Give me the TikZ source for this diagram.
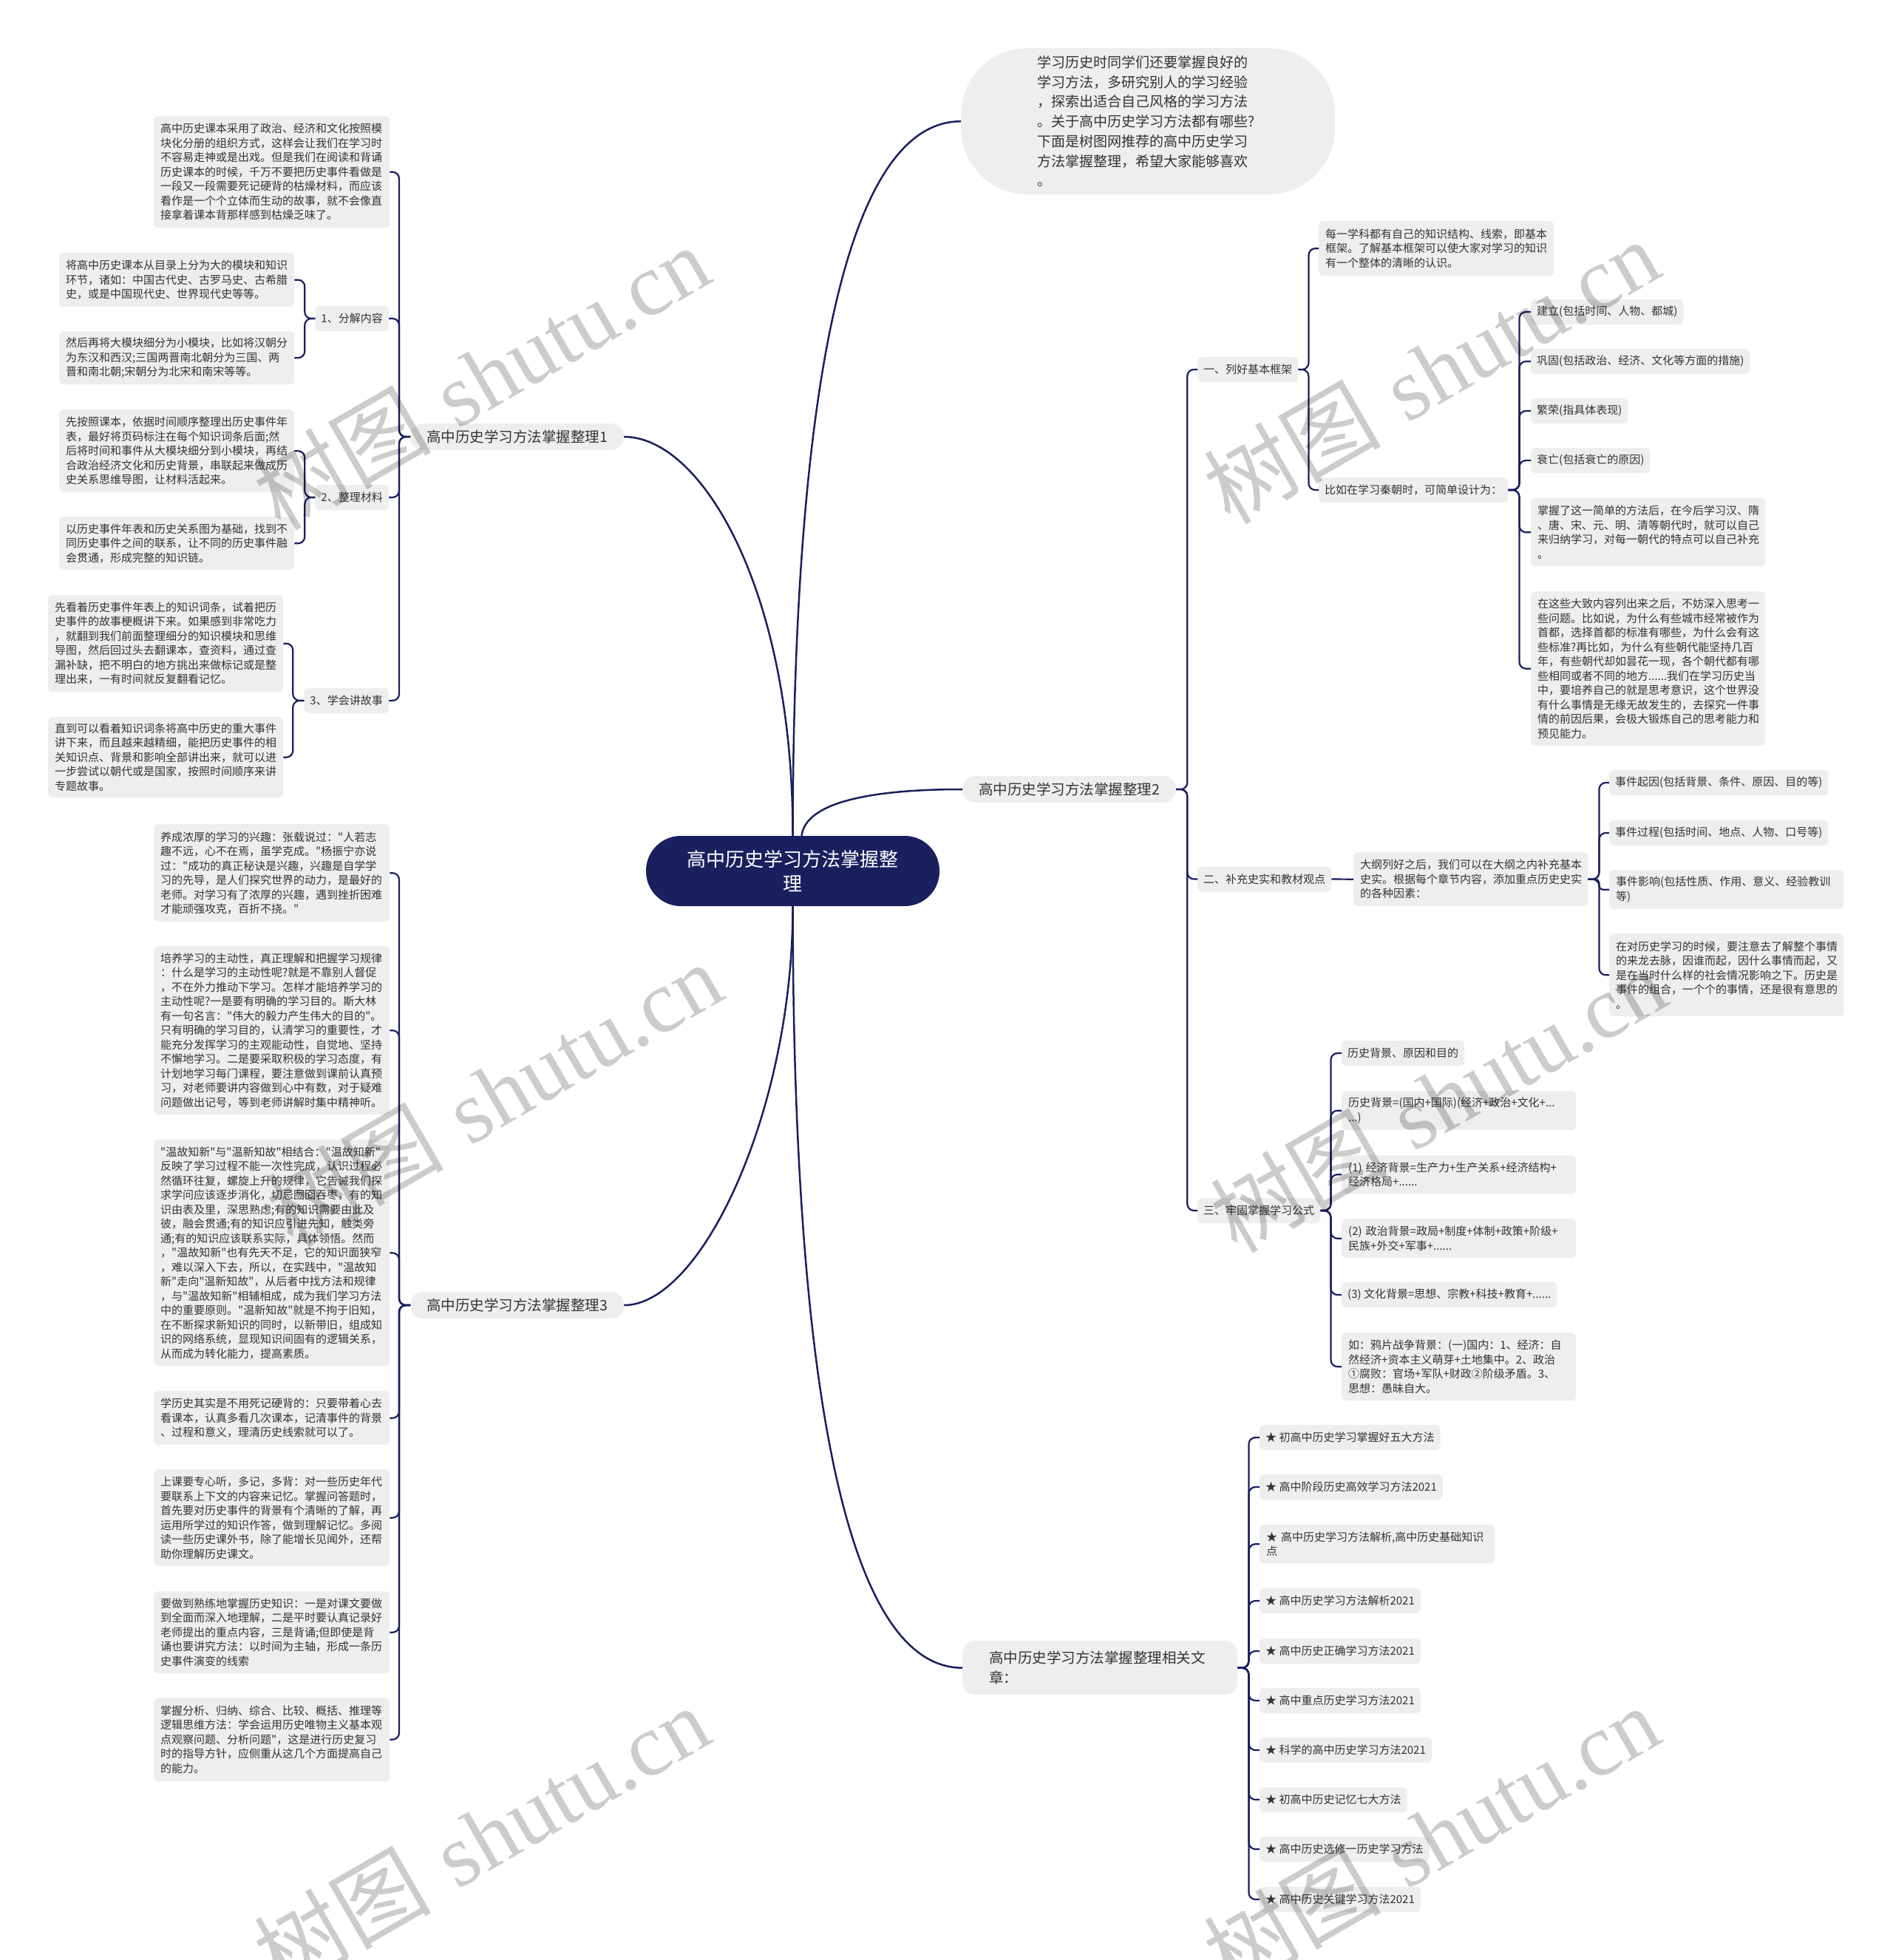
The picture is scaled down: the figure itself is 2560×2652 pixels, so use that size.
\documentclass[tikz,border=0pt]{standalone}
\usepackage{fontspec}
\newfontfamily\cjk{Noto Sans CJK SC}
\newfontfamily\wmserif{Liberation Serif}
\definecolor{navy}{HTML}{1A1F5E}
\definecolor{boxgray}{HTML}{EEEEEE}
\definecolor{txt}{HTML}{333333}
\tikzset{
  box/.style={fill=boxgray, text=txt, rounded corners=6pt, inner xsep=9pt, inner ysep=0pt, minimum height=34pt, align=left, font=\cjk\fontsize{15}{19.5}\selectfont},
  tl/.style={box, anchor=north west},
  lbl/.style={box, inner xsep=8pt},
  branch/.style={fill=boxgray, text=txt, rounded corners=17pt, inner xsep=22pt, inner ysep=0pt, minimum height=36pt, font=\cjk\fontsize{19.5}{27}\selectfont},
  conn/.style={draw=navy, line width=2.2pt, rounded corners=9pt},
  mainconn/.style={draw=navy, line width=2.5pt},
  wm/.style={rotate=30, text=black, text opacity=0.2, inner sep=0pt, font=\fontsize{120}{120}\selectfont}
}
\begin{document}
\begin{tikzpicture}[x=1pt,y=-1pt]
\useasboundingbox (0,0) rectangle (2560,2652);

% root
\node[fill=navy, text=white, rounded corners=47pt, minimum width=397pt, minimum height=95pt, align=center, inner sep=0pt, font=\cjk\fontsize{26}{33}\selectfont] (root) at (1072.5,1178.5) {高中历史学习方法掌握整\\理};

% intro
\node[fill=boxgray, text=txt, rounded corners=90pt, anchor=north west, minimum height=198pt, text width=300pt, inner xsep=103pt, inner ysep=0pt, align=left, font=\cjk\fontsize{19}{26.7}\selectfont] (intro) at (1300,65) {学习历史时同学们还要掌握良好的\\学习方法，多研究别人的学习经验\\，探索出适合自己风格的学习方法\\。关于高中历史学习方法都有哪些?\\下面是树图网推荐的高中历史学习\\方法掌握整理，希望大家能够喜欢\\。};

% branches
\node[branch, anchor=west] (b1) at (555,591) {高中历史学习方法掌握整理1};
\node[branch, anchor=west] (b2) at (1302,1068) {高中历史学习方法掌握整理2};
\node[branch, anchor=west] (b3) at (555,1766) {高中历史学习方法掌握整理3};
\node[branch, anchor=north west, text width=300pt, inner xsep=36pt, align=left, minimum height=73pt] (b4) at (1302,2220) {高中历史学习方法掌握整理相关文\\章：};

% branch 1
\node[tl, text width=301pt, minimum height=151pt] (l1a) at (208,157) {高中历史课本采用了政治、经济和文化按照模\\块化分册的组织方式，这样会让我们在学习时\\不容易走神或是出戏。但是我们在阅读和背诵\\历史课本的时候，千万不要把历史事件看做是\\一段又一段需要死记硬背的枯燥材料，而应该\\看作是一个个立体而生动的故事，就不会像直\\接拿着课本背那样感到枯燥乏味了。};
\node[lbl, anchor=east] (k1) at (526,431) {1、分解内容};
\node[lbl, anchor=east] (k2) at (526,673) {2、整理材料};
\node[lbl, anchor=east] (k3) at (526,948) {3、学会讲故事};
\node[tl, text width=300pt, minimum height=73pt] (l1b) at (80,342) {将高中历史课本从目录上分为大的模块和知识\\环节，诸如：中国古代史、古罗马史、古希腊\\史，或是中国现代史、世界现代史等等。};
\node[tl, text width=300pt, minimum height=72pt] (l1c) at (80,448) {然后再将大模块细分为小模块，比如将汉朝分\\为东汉和西汉;三国两晋南北朝分为三国、两\\晋和南北朝;宋朝分为北宋和南宋等等。};
\node[tl, text width=300pt, minimum height=112pt] (l2a) at (80,554) {先按照课本，依据时间顺序整理出历史事件年\\表，最好将页码标注在每个知识词条后面;然\\后将时间和事件从大模块细分到小模块，再结\\合政治经济文化和历史背景，串联起来做成历\\史关系思维导图，让材料活起来。};
\node[tl, text width=300pt, minimum height=72pt] (l2b) at (80,699) {以历史事件年表和历史关系图为基础，找到不\\同历史事件之间的联系，让不同的历史事件融\\会贯通，形成完整的知识链。};
\node[tl, text width=300pt, minimum height=131pt] (l3a) at (65,805) {先看着历史事件年表上的知识词条，试着把历\\史事件的故事梗概讲下来。如果感到非常吃力\\，就翻到我们前面整理细分的知识模块和思维\\导图，然后回过头去翻课本，查资料，通过查\\漏补缺，把不明白的地方挑出来做标记或是整\\理出来，一有时间就反复翻看记忆。};
\node[tl, text width=300pt, minimum height=109pt] (l3b) at (65,970) {直到可以看着知识词条将高中历史的重大事件\\讲下来，而且越来越精细，能把历史事件的相\\关知识点、背景和影响全部讲出来，就可以进\\一步尝试以朝代或是国家，按照时间顺序来讲\\专题故事。};

% branch 3
\node[tl, text width=301pt, minimum height=132pt] (m1) at (208,1115) {养成浓厚的学习的兴趣：张载说过："人若志\\趣不远，心不在焉，虽学克成。"杨振宁亦说\\过："成功的真正秘诀是兴趣，兴趣是自学学\\习的先导，是人们探究世界的动力，是最好的\\老师。对学习有了浓厚的兴趣，遇到挫折困难\\才能顽强攻克，百折不挠。"};
\node[tl, text width=301pt, minimum height=228pt] (m2) at (208,1280) {培养学习的主动性，真正理解和把握学习规律\\：什么是学习的主动性呢?就是不靠别人督促\\，不在外力推动下学习。怎样才能培养学习的\\主动性呢?一是要有明确的学习目的。斯大林\\有一句名言："伟大的毅力产生伟大的目的"。\\只有明确的学习目的，认清学习的重要性，才\\能充分发挥学习的主观能动性，自觉地、坚持\\不懈地学习。二是要采取积极的学习态度，有\\计划地学习每门课程，要注意做到课前认真预\\习，对老师要讲内容做到心中有数，对于疑难\\问题做出记号，等到老师讲解时集中精神听。};
\node[tl, text width=301pt, minimum height=306pt] (m3) at (208,1542) {"温故知新"与"温新知故"相结合："温故知新"\\反映了学习过程不能一次性完成，认识过程必\\然循环往复，螺旋上升的规律，它告诫我们探\\求学问应该逐步消化，切忌囫囵吞枣，有的知\\识由表及里，深思熟虑;有的知识需要由此及\\彼，融会贯通;有的知识应引进先知，触类旁\\通;有的知识应该联系实际，具体领悟。然而\\，"温故知新"也有先天不足，它的知识面狭窄\\，难以深入下去，所以，在实践中，"温故知\\新"走向"温新知故"，从后者中找方法和规律\\，与"温故知新"相辅相成，成为我们学习方法\\中的重要原则。"温新知故"就是不拘于旧知，\\在不断探求新知识的同时，以新带旧，组成知\\识的网络系统，显现知识间固有的逻辑关系，\\从而成为转化能力，提高素质。};
\node[tl, text width=301pt, minimum height=73pt] (m4) at (208,1882) {学历史其实是不用死记硬背的：只要带着心去\\看课本，认真多看几次课本，记清事件的背景\\、过程和意义，理清历史线索就可以了。};
\node[tl, text width=301pt, minimum height=131pt] (m5) at (208,1988) {上课要专心听，多记，多背：对一些历史年代\\要联系上下文的内容来记忆。掌握问答题时，\\首先要对历史事件的背景有个清晰的了解，再\\运用所学过的知识作答，做到理解记忆。多阅\\读一些历史课外书，除了能增长见闻外，还帮\\助你理解历史课文。};
\node[tl, text width=301pt, minimum height=111pt] (m6) at (208,2153) {要做到熟练地掌握历史知识：一是对课文要做\\到全面而深入地理解，二是平时要认真记录好\\老师提出的重点内容，三是背诵;但即使是背\\诵也要讲究方法：以时间为主轴，形成一条历\\史事件演变的线索};
\node[tl, text width=301pt, minimum height=113pt] (m7) at (208,2297) {掌握分析、归纳、综合、比较、概括、推理等\\逻辑思维方法：学会运用历史唯物主义基本观\\点观察问题、分析问题"，这是进行历史复习\\时的指导方针，应侧重从这几个方面提高自己\\的能力。};

% branch 2
\node[lbl, anchor=west] (k4) at (1620,500) {一、列好基本框架};
\node[lbl, anchor=west] (k5) at (1620,1189.5) {二、补充史实和教材观点};
\node[lbl, anchor=west] (k6) at (1620,1638) {三、牢固掌握学习公式};
\node[tl, text width=300pt, minimum height=74pt] (r1a) at (1784,299) {每一学科都有自己的知识结构、线索，即基本\\框架。了解基本框架可以使大家对学习的知识\\有一个整体的清晰的认识。};
\node[lbl, anchor=west] (r1b) at (1784,663) {比如在学习秦朝时，可简单设计为：};
\node[lbl, anchor=west] (r1b1) at (2071,422) {建立(包括时间、人物、都城)};
\node[lbl, anchor=west] (r1b2) at (2071,489) {巩固(包括政治、经济、文化等方面的措施)};
\node[lbl, anchor=west] (r1b3) at (2071,556) {繁荣(指具体表现)};
\node[lbl, anchor=west] (r1b4) at (2071,623) {衰亡(包括衰亡的原因)};
\node[tl, text width=299pt, minimum height=92pt] (r1b5) at (2071,674) {掌握了这一简单的方法后，在今后学习汉、隋\\、唐、宋、元、明、清等朝代时，就可以自己\\来归纳学习，对每一朝代的特点可以自己补充\\。};
\node[tl, text width=299pt, minimum height=209pt] (r1b6) at (2071,800) {在这些大致内容列出来之后，不妨深入思考一\\些问题。比如说，为什么有些城市经常被作为\\首都，选择首都的标准有哪些，为什么会有这\\些标准?再比如，为什么有些朝代能坚持几百\\年，有些朝代却如昙花一现，各个朝代都有哪\\些相同或者不同的地方......我们在学习历史当\\中，要培养自己的就是思考意识，这个世界没\\有什么事情是无缘无故发生的，去探究一件事\\情的前因后果，会极大锻炼自己的思考能力和\\预见能力。};
\node[tl, text width=299pt, minimum height=73pt] (r2a) at (1831,1153) {大纲列好之后，我们可以在大纲之内补充基本\\史实。根据每个章节内容，添加重点历史史实\\的各种因素：};
\node[lbl, anchor=west] (r2b1) at (2177,1059) {事件起因(包括背景、条件、原因、目的等)};
\node[lbl, anchor=west] (r2b2) at (2177,1127) {事件过程(包括时间、地点、人物、口号等)};
\node[tl, text width=299pt, minimum height=53pt] (r2b3) at (2177,1177) {事件影响(包括性质、作用、意义、经验教训\\等)};
\node[tl, text width=299pt, minimum height=112pt] (r2b4) at (2177,1263) {在对历史学习的时候，要注意去了解整个事情\\的来龙去脉，因谁而起，因什么事情而起，又\\是在当时什么样的社会情况影响之下。历史是\\事件的组合，一个个的事情，还是很有意思的\\。};
\node[lbl, anchor=west] (r3a) at (1815,1425) {历史背景、原因和目的};
\node[tl, text width=299pt, minimum height=53pt] (r3b) at (1815,1476) {历史背景=(国内+国际)(经济+政治+文化+...\\...)};
\node[tl, text width=299pt, minimum height=52pt] (r3c) at (1815,1563) {(1) 经济背景=生产力+生产关系+经济结构+\\经济格局+......};
\node[tl, text width=299pt, minimum height=53pt] (r3d) at (1815,1649) {(2) 政治背景=政局+制度+体制+政策+阶级+\\民族+外交+军事+......};
\node[lbl, anchor=west] (r3e) at (1815,1752) {(3) 文化背景=思想、宗教+科技+教育+......};
\node[tl, text width=299pt, minimum height=92pt] (r3f) at (1815,1803) {如：鸦片战争背景：(一)国内：1、经济：自\\然经济+资本主义萌芽+土地集中。2、政治\\①腐败：官场+军队+财政②阶级矛盾。3、\\思想：愚昧自大。};

% branch 4
\node[lbl, anchor=west] (a1) at (1704,1945) {★ 初高中历史学习掌握好五大方法};
\node[lbl, anchor=west] (a2) at (1704,2012) {★ 高中阶段历史高效学习方法2021};
\node[tl, text width=300pt, minimum height=52pt] (a3) at (1704,2063) {★ 高中历史学习方法解析,高中历史基础知识\\点};
\node[lbl, anchor=west] (a4) at (1704,2166) {★ 高中历史学习方法解析2021};
\node[lbl, anchor=west] (a5) at (1704,2234) {★ 高中历史正确学习方法2021};
\node[lbl, anchor=west] (a6) at (1704,2301) {★ 高中重点历史学习方法2021};
\node[lbl, anchor=west] (a7) at (1704,2368) {★ 科学的高中历史学习方法2021};
\node[lbl, anchor=west] (a8) at (1704,2435) {★ 初高中历史记忆七大方法};
\node[lbl, anchor=west] (a9) at (1704,2502) {★ 高中历史选修一历史学习方法};
\node[lbl, anchor=west] (a10) at (1704,2570) {★ 高中历史关键学习方法2021};

% main connectors
\draw[mainconn] (root.north) .. controls (1073,650) and (1120,164) .. (intro.west);
\draw[mainconn] (root.north) .. controls (1073,800) and (950,591) .. (b1.east);
\draw[mainconn] ([xshift=12pt]root.north) .. controls (1090,1085) and (1180,1068) .. (b2.west);
\draw[mainconn] (root.south) .. controls (1073,1500) and (950,1766) .. (b3.east);
\draw[mainconn] (root.south) .. controls (1073,1750) and (1120,2256.5) .. (b4.west);

% branch connectors
\foreach \c in {l1a,k1,k2,k3} \draw[conn] (b1.west) -- ++(-15,0) |- (\c.east);
\foreach \c in {l1b,l1c} \draw[conn] (k1.west) -- ++(-14,0) |- (\c.east);
\foreach \c in {l2a,l2b} \draw[conn] (k2.west) -- ++(-14,0) |- (\c.east);
\foreach \c in {l3a,l3b} \draw[conn] (k3.west) -- ++(-15,0) |- (\c.east);
\foreach \c in {m1,m2,m3,m4,m5,m6,m7} \draw[conn] (b3.west) -- ++(-15,0) |- (\c.east);
\foreach \c in {k4,k5,k6} \draw[conn] (b2.east) -- ++(15,0) |- (\c.west);
\foreach \c in {r1a,r1b} \draw[conn] (k4.east) -- ++(14,0) |- (\c.west);
\foreach \c in {r1b1,r1b2,r1b3,r1b4,r1b5,r1b6} \draw[conn] (r1b.east) -- ++(15,0) |- (\c.west);
\draw[conn] (k5.east) -- (r2a.west);
\foreach \c in {r2b1,r2b2,r2b4} \draw[conn] (r2a.east) -- ++(15,0) |- (\c.west);
\draw[conn, rounded corners=5pt] (r2a.east) -- ++(15,0) |- (r2b3.west);
\foreach \c in {r3a,r3b,r3c,r3d,r3e,r3f} \draw[conn] (k6.east) -- ++(14,0) |- (\c.west);
\foreach \c in {a1,a2,a3,a4,a5,a6,a7,a8,a9,a10} \draw[conn] (b4.east) -- ++(15,0) |- (\c.west);

% watermarks
\foreach \p in {(651,510),(1936,502),(668,1480),(1945,1488),(651,2486),(1936,2486)}
  \node[wm] at \p {{\cjk 树图} {\wmserif shutu.cn}};
\end{tikzpicture}
\end{document}
